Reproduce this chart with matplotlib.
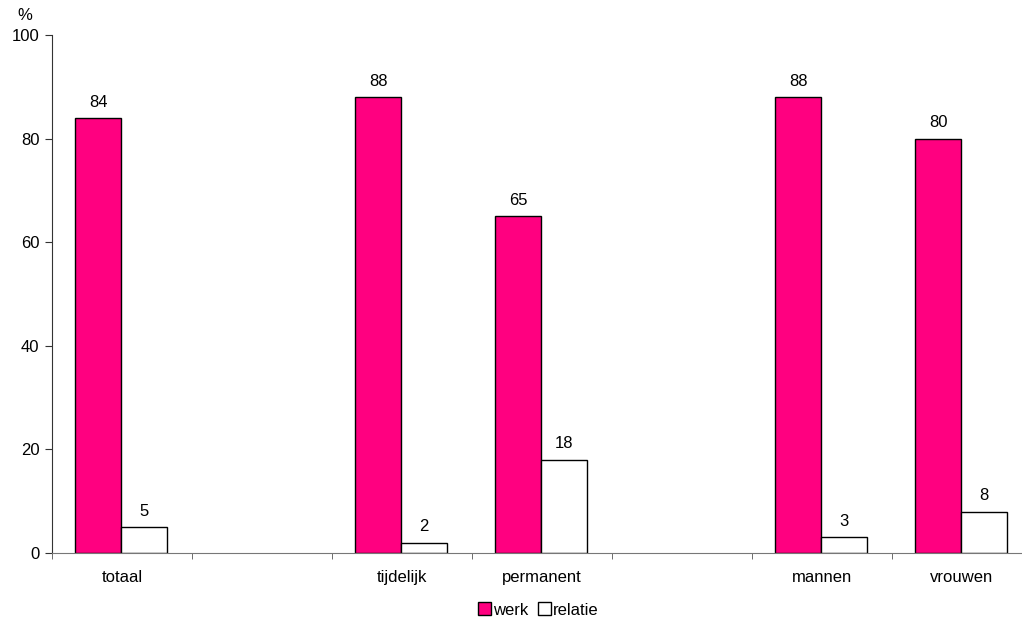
import numpy as np
import matplotlib.pyplot as plt

categories = ['totaal', '', 'tijdelijk', 'permanent', '', 'mannen', 'vrouwen']
werk = [84, None, 88, 65, None, 88, 80]
relatie = [5, None, 2, 18, None, 3, 8]

plt.rcParams['font.family'] = ['Liberation Sans', 'DejaVu Sans']
plt.rcParams['font.size'] = 12

fig = plt.figure(figsize=(10.22, 6.3), dpi=100)
ax = fig.add_axes([52 / 1022, 1 - 553 / 630, 980 / 1022, 518 / 630])

x = np.arange(len(categories))
w = 46 / 140
idx = [i for i, v in enumerate(werk) if v is not None]
wv = [werk[i] for i in idx]
rv = [relatie[i] for i in idx]
xi = x[idx]

b1 = ax.bar(xi - w / 2 - 0.007, wv, w, color='#ff0080', edgecolor='black', linewidth=1, label='werk')
b2 = ax.bar(xi + w / 2 - 0.007, rv, w, color='white', edgecolor='black', linewidth=1, label='relatie')
for bars in (b1, b2):
    ax.bar_label(bars, padding=6, fontsize=12)

ax.set_xlim(-0.5, len(categories) - 0.5)
ax.set_ylim(0, 100)
ax.set_yticks([0, 20, 40, 60, 80, 100])
ax.set_xticks(x)
ax.set_xticklabels(categories)
ax.tick_params(axis='x', length=0, pad=12)
ax.set_xticks(np.arange(-0.5, len(categories)), minor=True)
ax.tick_params(axis='x', which='minor', length=4, color='#555555')
ax.tick_params(axis='y', length=5, color='#333333', pad=4)

for s in ('top', 'right'):
    ax.spines[s].set_visible(False)
ax.spines['left'].set_color('#333333')
ax.spines['bottom'].set_color('#777777')

fig.text(25 / 1022, 1 - 15 / 630, '%', ha='center', va='center', fontsize=12)

fig.legend(handles=[b1, b2], loc='center', bbox_to_anchor=(538 / 1022, 1 - 610 / 630),
           ncol=2, frameon=False, handlelength=0.8, handleheight=0.8,
           handletextpad=0.1, columnspacing=0.6, fontsize=12)

fig.savefig('out.png', dpi=100)
